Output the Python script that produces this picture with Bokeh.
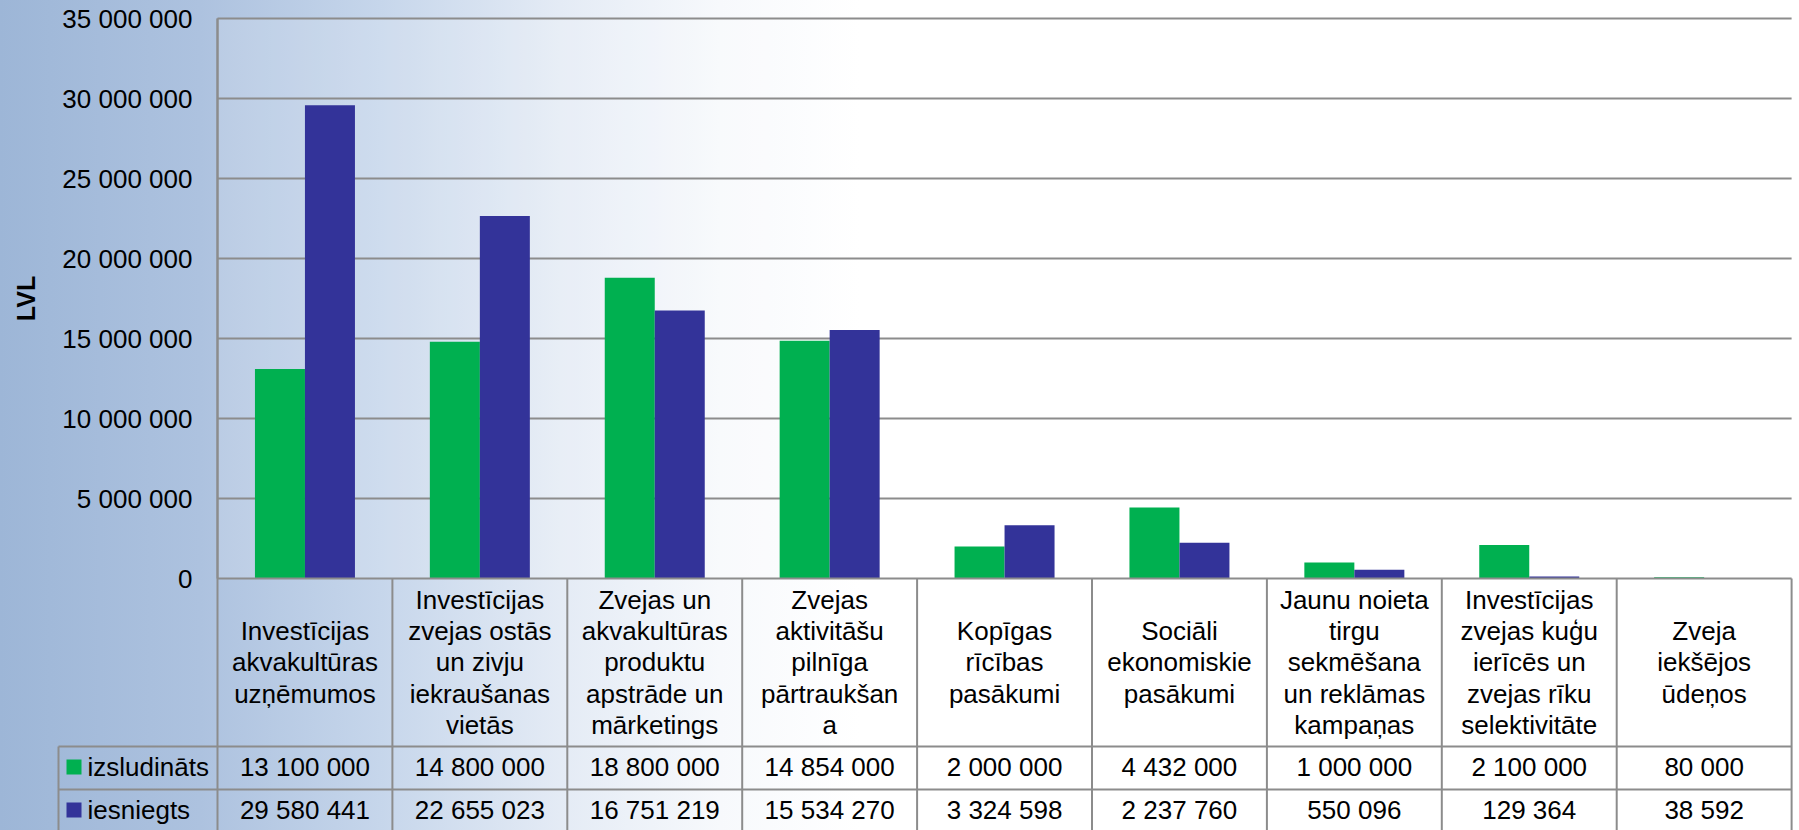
import math
from bokeh.plotting import figure
from bokeh.models import Range1d, LinearAxis, FixedTicker, CustomJSTickFormatter
from bokeh.core.properties import value
from bokeh.embed import file_html
from bokeh.resources import INLINE

# ---------------- data ----------------
categories = [
    "Investīcijas\nakvakultūras\nuzņēmumos",
    "Investīcijas\nzvejas ostās\nun zivju\niekraušanas\nvietās",
    "Zvejas un\nakvakultūras\nproduktu\napstrāde un\nmārketings",
    "Zvejas\naktivitāšu\npilnīga\npārtraukšan\na",
    "Kopīgas\nrīcības\npasākumi",
    "Sociāli\nekonomiskie\npasākumi",
    "Jaunu noieta\ntirgu\nsekmēšana\nun reklāmas\nkampaņas",
    "Investīcijas\nzvejas kuģu\nierīcēs un\nzvejas rīku\nselektivitāte",
    "Zveja\niekšējos\nūdeņos",
]
izsludinats = [13100000, 14800000, 18800000, 14854000, 2000000, 4432000, 1000000, 2100000, 80000]
iesniegts = [29580441, 22655023, 16751219, 15534270, 3324598, 2237760, 550096, 129364, 38592]
series_names = ["izsludināts", "iesniegts"]
series_colors = ["#00B050", "#333399"]
y_ticks = [0, 5000000, 10000000, 15000000, 20000000, 25000000, 30000000, 35000000]
y_label = "LVL"

# ---------------- layout (pixels) ----------------
W, H = 1799, 830
FL = 0             # frame left
X0 = 217           # pixel of x = 0
CW = 174.9         # category width in px
Y0, YT = 578, 18   # pixel rows of y = 0 and y = max tick
YMAX = y_ticks[-1]
U = YMAX / (Y0 - YT)   # data units per px (vertical)
N = len(categories)

HEADER_H, ROW_H = 168, 43
r1_top = -HEADER_H * U
r2_top = -(HEADER_H + ROW_H) * U
y_bottom = -(H - Y0) * U
leg_left = -(X0 - 58) / CW

FONT = value("Liberation Sans")
GRAY = "#8c8c8c"

p = figure(width=W, height=H, output_backend="svg", toolbar_location=None,
           x_axis_type=None, y_axis_type=None,
           x_range=Range1d(-(X0 - FL) / CW, (W - X0) / CW),
           y_range=Range1d(y_bottom, YMAX + YT * U),
           min_border_left=FL, min_border_right=0, min_border_top=0, min_border_bottom=0)
p.grid.visible = False
p.outline_line_color = None
p.background_fill_alpha = 0
p.border_fill_alpha = 0

grad = ("linear-gradient(to right, #9db6d7 0px, #adc2df 200px, #c6d6eb 380px, "
        "#e4ebf5 560px, #f7f9fc 720px, #ffffff 860px)")
p.styles = {"background": grad}

# plot area light fill
p.quad(left=[0], right=[N], bottom=[0], top=[YMAX], fill_color="white",
       fill_alpha=0.15, line_color=None)

# gridlines
grid_y = y_ticks[1:]
p.segment(x0=[0] * len(grid_y), x1=[N] * len(grid_y), y0=grid_y, y1=grid_y,
          line_color=GRAY, line_width=2)

# bars
bw = 50 / CW
xs = [i + 0.5 for i in range(N)]
p.vbar(x=[x - bw / 2 for x in xs], top=izsludinats, width=bw,
       fill_color=series_colors[0], line_color=None)
p.vbar(x=[x + bw / 2 for x in xs], top=iesniegts, width=bw,
       fill_color=series_colors[1], line_color=None)

# y axis
ax = LinearAxis(fixed_location=0, bounds=(0, YMAX),
                ticker=FixedTicker(ticks=y_ticks),
                formatter=CustomJSTickFormatter(
                    code="return tick.toFixed(0).replace(/\\B(?=(\\d{3})+(?!\\d))/g, ' ');"),
                major_label_text_font_size="26px", major_label_text_font="Liberation Sans",
                major_label_text_color="black",
                major_tick_line_color=None, minor_tick_line_color=None,
                major_tick_out=0, major_tick_in=0, minor_tick_out=0, minor_tick_in=0,
                axis_line_color=GRAY, axis_line_width=2,
                major_label_standoff=25)
p.add_layout(ax, "left")

# y axis title
p.text(x=[(25 - X0) / CW], y=[YMAX / 2], text=[y_label], angle=math.pi / 2,
       text_align="center", text_baseline="middle", text_font=FONT,
       text_font_size="25px", text_font_style="bold", text_color="black")

# ---------------- data table ----------------
vx0 = [0] + list(range(1, N + 1)) + [leg_left]
vy_top = [YMAX] + [0] * N + [r1_top]
p.segment(x0=vx0, x1=vx0, y0=vy_top, y1=[y_bottom] * len(vx0),
          line_color=GRAY, line_width=2)
p.segment(x0=[0, leg_left, leg_left], x1=[N, N, N], y0=[0, r1_top, r2_top],
          y1=[0, r1_top, r2_top], line_color=GRAY, line_width=2)

# header texts
p.text(x=xs, y=[-HEADER_H / 2 * U] * N, text=categories, text_align="center",
       text_baseline="middle", text_font=FONT, text_font_size="26px",
       text_line_height=1.04, text_color="black")

def fmt(v):
    return f"{v:,}".replace(",", " ")

row_y = [-(HEADER_H + ROW_H / 2 - 1) * U, -(HEADER_H + ROW_H + ROW_H / 2 - 1) * U]
for vals, ry in zip([izsludinats, iesniegts], row_y):
    p.text(x=xs, y=[ry] * N, text=[fmt(v) for v in vals], text_align="center",
           text_baseline="middle", text_font=FONT, text_font_size="26px",
           text_color="black")

# legend keys in the table
key_x = (73.5 - X0) / CW
p.rect(x=[key_x, key_x], y=row_y, width=15, height=15, width_units="screen",
       height_units="screen", fill_color=series_colors, line_color=None)
p.text(x=[(87 - X0) / CW] * 2, y=row_y, text=series_names, text_align="left",
       text_baseline="middle", text_font=FONT, text_font_size="26px",
       text_color="black")

open("out.html", "w").write(file_html(p, INLINE))
